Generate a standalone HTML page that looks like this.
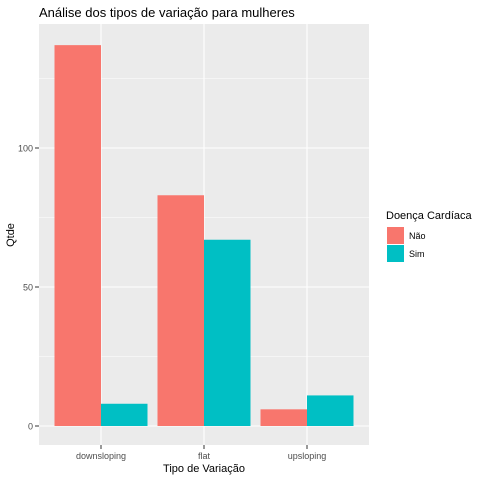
<!DOCTYPE html>
<html><head><meta charset="utf-8"><style>
body{margin:0;background:#fff;font-family:"Liberation Sans",Arial,sans-serif}
</style></head><body>
<svg id="c" width="480" height="480" xmlns="http://www.w3.org/2000/svg">
<rect width="480" height="480" fill="#fff"/>
<text x="39" y="17" font-size="13" fill="#000">Análise dos tipos de variação para mulheres</text>
<rect x="39" y="24" width="330" height="421" fill="#ebebeb"/>
<g id="grid"></g><g id="bars"></g><g id="axes"></g>
<text x="204" y="472" font-size="11" text-anchor="middle">Tipo de Variação</text>
<text transform="translate(14,235) rotate(-90)" font-size="11" text-anchor="middle">Qtde</text>
<g>
<text x="386" y="219" font-size="11">Doença Cardíaca</text>
<rect x="387" y="227" width="17" height="17" fill="#f8766d"/>
<text x="409" y="239" font-size="9">Não</text>
<rect x="387" y="245" width="17" height="17" fill="#00bfc4"/>
<text x="409" y="257" font-size="9">Sim</text>
</g>
</svg>
<script>
const categories=["downsloping","flat","upsloping"];
const naoValues=[137,83,6];
const simValues=[8,67,11];
const yTicks=[0,50,100];
const ns="http://www.w3.org/2000/svg";
const y0=426, k=2.78, xc0=101, step=103, bw=46.5;
const y=v=>y0-v*k, x=i=>xc0+i*step;
function mk(t,a,p){const e=document.createElementNS(ns,t);for(const q in a)e.setAttribute(q,a[q]);document.getElementById(p).appendChild(e);return e;}
[25,75,125].forEach(v=>{const e=mk('line',{x1:39,x2:369,y1:y(v),y2:y(v),stroke:'#fff','stroke-width':0.5},'grid');

});
yTicks.forEach(v=>{const e=mk('line',{x1:39,x2:369,y1:y(v),y2:y(v),stroke:'#fff','stroke-width':1.1},'grid');


const t=mk('line',{x1:35,x2:39,y1:y(v),y2:y(v),stroke:'#333'},'axes');


const l=mk('text',{x:33,y:y(v)+3.5,'font-size':9,'text-anchor':'end',fill:'#4d4d4d'},'axes');l.textContent=v;

});
categories.forEach((c,i)=>{const g=mk('line',{x1:x(i),x2:x(i),y1:24,y2:445,stroke:'#fff','stroke-width':1.1},'grid');


const t=mk('line',{x1:x(i),x2:x(i),y1:445,y2:449,stroke:'#333'},'axes');


const l=mk('text',{x:x(i),y:459,'font-size':9,'text-anchor':'middle',fill:'#4d4d4d'},'axes');l.textContent=c;


const a=mk('rect',{x:x(i)-bw,y:y(naoValues[i]),width:bw,height:naoValues[i]*k,fill:'#f8766d'},'bars');


const b=mk('rect',{x:x(i),y:y(simValues[i]),width:bw,height:simValues[i]*k,fill:'#00bfc4'},'bars');

});
</script>
</body></html>
